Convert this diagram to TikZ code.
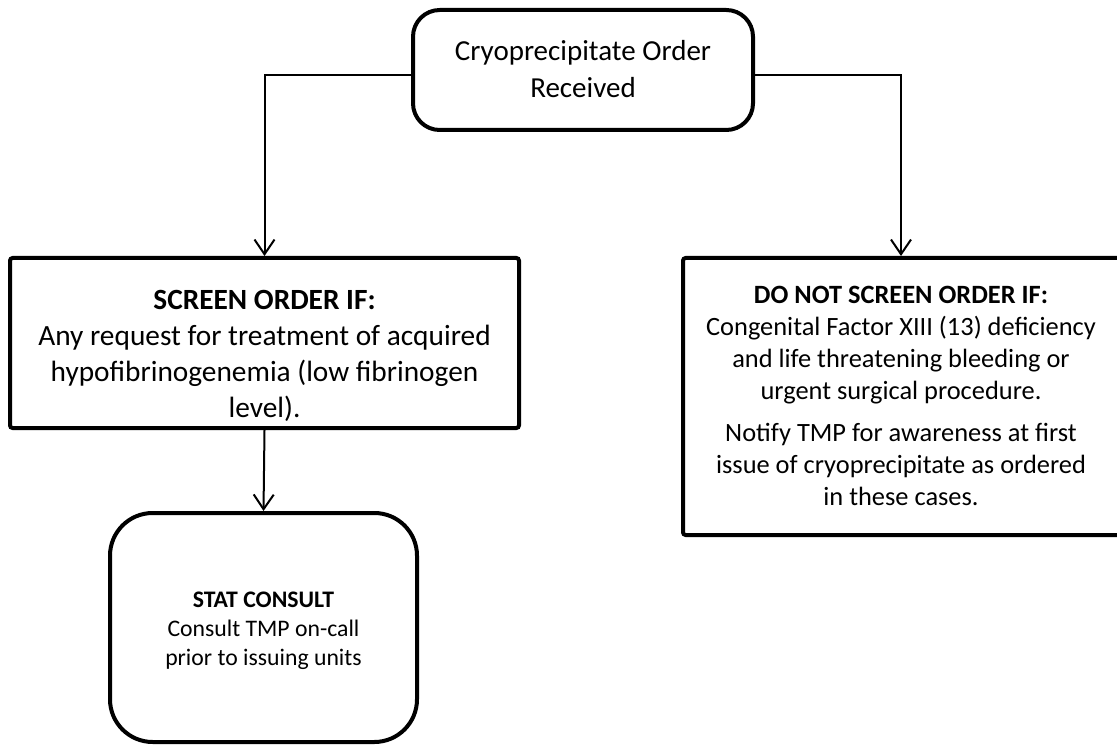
\documentclass[tikz,border=0pt]{standalone}
\usepackage{fontspec}
\setmainfont{Carlito}
\usetikzlibrary{arrows.meta}
\begin{document}
\begin{tikzpicture}[x=0.75pt,y=-0.75pt,
  box/.style={draw,line width=3pt,inner sep=0pt,rounded corners=2pt},
  roundbox/.style={box,rounded corners=#1},
  link/.style={line width=1.5pt,-{Straight Barb[length=11pt,width=15pt,line width=1.5pt]}},
  txt/.style={align=center,inner sep=0pt}]
\useasboundingbox (0,0) rectangle (1117,745);

% boxes (the right-hand box runs on past the right margin)
\node[roundbox=20pt,minimum width=255pt,minimum height=90pt] (order) at (583,70) {};
\node[box,minimum width=381.75pt,minimum height=127.5pt] (screen) at (264.5,343) {};
\node[box,minimum width=339pt,minimum height=207.75pt] (noscreen) at (909,396.5) {};
\node[roundbox=32pt,minimum width=230.25pt,minimum height=171.75pt] (consult) at (263.5,627.5) {};

% texts
\node[txt,font=\fontsize{21.75}{28}\selectfont] (ordertxt) at (583,69)
  {Cryoprecipitate Order\\Received};
\node[txt,font=\fontsize{22}{27}\selectfont] (screentxt) at (264.5,356)
  {\textbf{SCREEN ORDER IF:}\\Any request for treatment of acquired\\hypofibrinogenemia (low fibrinogen\\level).};
\node[txt,font=\fontsize{19.8}{24}\selectfont] (noscreentxt) at (901,396)
  {\textbf{DO NOT SCREEN ORDER IF:}\\Congenital Factor XIII (13) deficiency\\and life threatening bleeding or\\urgent surgical procedure.\\[7pt]Notify TMP for awareness at first\\issue of cryoprecipitate as ordered\\in these cases.};
\node[txt,font=\fontsize{17.8}{21.75}\selectfont] (consulttxt) at (263.5,631)
  {\textbf{STAT CONSULT}\\Consult TMP on-call\\prior to issuing units};

% connectors
\draw[link] ([yshift=-3.75pt]order.west) -| (screen.north);
\draw[link] ([yshift=-3.75pt]order.east) -| ([xshift=-6pt]noscreen.north);
\draw[link] (screen.south) -- (consult.north);
\end{tikzpicture}
\end{document}
